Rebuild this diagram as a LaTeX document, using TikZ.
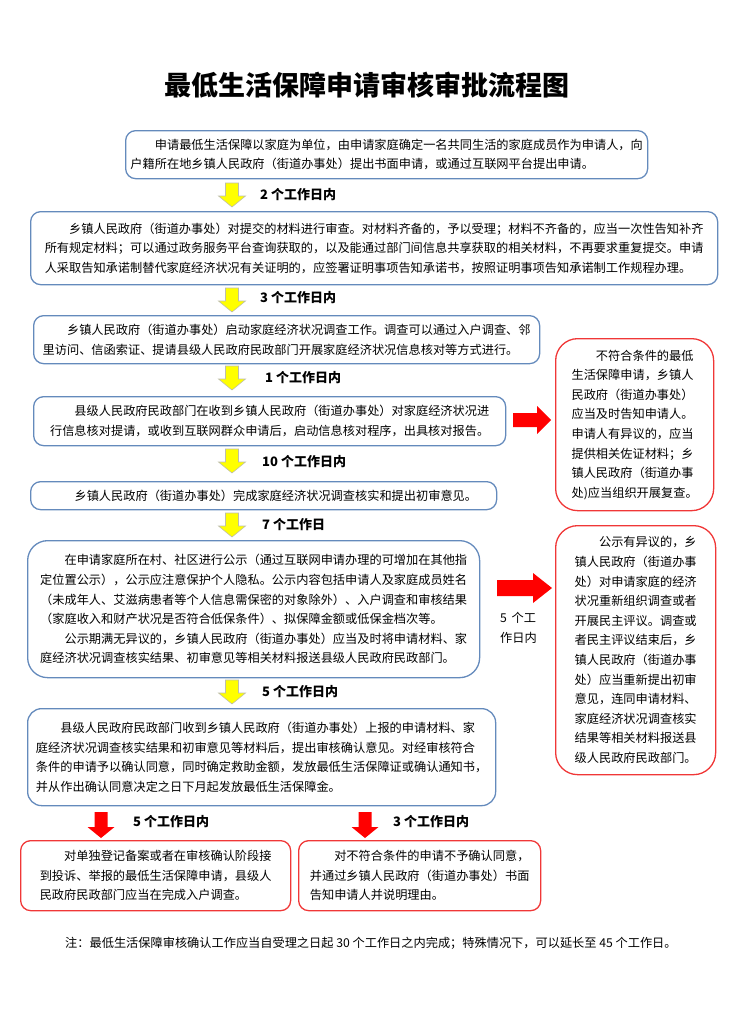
\documentclass[tikz,border=0pt]{standalone}
\usepackage{fontspec}
\setmainfont{Noto Sans CJK SC}
\definecolor{bblue}{RGB}{100,138,188}
\definecolor{rred}{RGB}{240,55,55}
\definecolor{ayel}{RGB}{255,255,0}
\definecolor{aedge}{RGB}{190,190,170}
\newcommand{\ind}{\hspace*{2em}}
\tikzset{
  bodyf/.style={font=\fontsize{12.2}{19.6}\selectfont},
  bbox/.style={draw=bblue, line width=1.3pt, rounded corners=10pt, align=left, inner sep=0pt, anchor=north west, bodyf},
  rbox/.style={draw=rred, line width=1.3pt, rounded corners=10pt, align=left, inner sep=0pt, anchor=north west, bodyf},
  rboxbig/.style={rbox, rounded corners=22pt},
  lab/.style={font=\fontsize{13}{15}\selectfont\bfseries, anchor=west, inner sep=0pt},
  yarr/.style={fill=ayel, draw=aedge, line width=0.6pt},
  rarr/.style={fill=red, draw=none},
  ydown/.pic={\path[yarr] (-6.5,0) -- (6.5,0) -- (6.5,13) -- (13.5,13) -- (0,24) -- (-13.5,13) -- (-6.5,13) -- cycle;},
  rdown/.pic={\path[rarr] (-6.5,0) -- (6.5,0) -- (6.5,15) -- (13.5,15) -- (0,26) -- (-13.5,15) -- (-6.5,15) -- cycle;},
}
\begin{document}
\begin{tikzpicture}[x=1pt,y=-1pt]
\useasboundingbox (0,0) rectangle (732,1012);
% title
\node[font=\fontsize{27}{30}\selectfont\bfseries] (title) at (367,85) {最低生活保障申请审核审批流程图};
% box 1
\node[bbox, minimum width=522, minimum height=48] (b1) at (125,130)
{\ind 申请最低生活保障以家庭为单位，由申请家庭确定一名共同生活的家庭成员作为申请人，向\\
户籍所在地乡镇人民政府（街道办事处）提出书面申请，或通过互联网平台提出申请。};
\pic at (232,183) {ydown};
\node[lab] (l1) at (260,195) {2 个工作日内};
% box 2
\node[bbox, minimum width=687, minimum height=73] (b2) at (30,211)
{\ind 乡镇人民政府（街道办事处）对提交的材料进行审查。对材料齐备的，予以受理；材料不齐备的，应当一次性告知补齐\\
所有规定材料；可以通过政务服务平台查询获取的，以及能通过部门间信息共享获取的相关材料，不再要求重复提交。申请\\
人采取告知承诺制替代家庭经济状况有关证明的，应签署证明事项告知承诺书，按照证明事项告知承诺制工作规程办理。};
\pic at (232,288) {ydown};
\node[lab] (l2) at (260,298) {3 个工作日内};
% box 3
\node[bbox, minimum width=506, minimum height=48] (b3) at (33,315)
{\ind 乡镇人民政府（街道办事处）启动家庭经济状况调查工作。调查可以通过入户调查、邻\\
里访问、信函索证、提请县级人民政府民政部门开展家庭经济状况信息核对等方式进行。};
\pic at (232,366) {ydown};
\node[lab] (l3) at (265,378) {1 个工作日内};
% box 4
\node[bbox, minimum width=472, minimum height=49] (b4) at (33,396)
{\ind 县级人民政府民政部门在收到乡镇人民政府（街道办事处）对家庭经济状况进\\
行信息核对提请，或收到互联网群众申请后，启动信息核对程序，出具核对报告。};
\path[rarr] (513,413) -- (537,413) -- (537,406) -- (551,420) -- (537,434) -- (537,427) -- (513,427) -- cycle;
% right box A
\node[rboxbig, minimum width=158, minimum height=172] (ra) at (555,338)
{\ind 不符合条件的最低\\
生活保障申请，乡镇人\\
民政府（街道办事处）\\
应当及时告知申请人。\\
申请人有异议的，应当\\
提供相关佐证材料；乡\\
镇人民政府（街道办事\\
处)应当组织开展复查。};
\pic at (232,449) {ydown};
\node[lab] (l4) at (262,462) {10 个工作日内};
% box 5
\node[bbox, minimum width=466, minimum height=28] (b5) at (30,481)
{\ind 乡镇人民政府（街道办事处）完成家庭经济状况调查核实和提出初审意见。};
\pic at (232,513) {ydown};
\node[lab] (l5) at (262,525) {7 个工作日};
% box 6
\node[bbox, minimum width=452, minimum height=137, rounded corners=20pt] (b6) at (27,540)
{\ind 在申请家庭所在村、社区进行公示（通过互联网申请办理的可增加在其他指\\
定位置公示），公示应注意保护个人隐私。公示内容包括申请人及家庭成员姓名\\
（未成年人、艾滋病患者等个人信息需保密的对象除外）、入户调查和审核结果\\
（家庭收入和财产状况是否符合低保条件）、拟保障金额或低保金档次等。\\
\ind 公示期满无异议的，乡镇人民政府（街道办事处）应当及时将申请材料、家\\
庭经济状况调查核实结果、初审意见等相关材料报送县级人民政府民政部门。};
\path[rarr] (497,580) -- (533,580) -- (533,573) -- (552,588) -- (533,603) -- (533,596) -- (497,596) -- cycle;
\node[font=\fontsize{12.2}{20}\selectfont, align=left, anchor=north west, inner sep=0pt] (l5b) at (500,612) {5\, 个工\\作日内};
% right box B
\node[rboxbig, minimum width=160, minimum height=249] (rb) at (555,525)
{\ind 公示有异议的，乡\\
镇人民政府（街道办事\\
处）对申请家庭的经济\\
状况重新组织调查或者\\
开展民主评议。调查或\\
者民主评议结束后，乡\\
镇人民政府（街道办事\\
处）应当重新提出初审\\
意见，连同申请材料、\\
家庭经济状况调查核实\\
结果等相关材料报送县\\
级人民政府民政部门。};
\pic at (232,680) {ydown};
\node[lab] (l6) at (262,692) {5 个工作日内};
% box 7
\node[bbox, minimum width=468, minimum height=97, rounded corners=14pt] (b7) at (27,708)
{\ind 县级人民政府民政部门收到乡镇人民政府（街道办事处）上报的申请材料、家\\
庭经济状况调查核实结果和初审意见等材料后，提出审核确认意见。对经审核符合\\
条件的申请予以确认同意，同时确定救助金额，发放最低生活保障证或确认通知书，\\
并从作出确认同意决定之日下月起发放最低生活保障金。};
\pic at (101,812) {rdown};
\node[lab] (l7) at (133,822) {5 个工作日内};
\pic at (365,812) {rdown};
\node[lab] (l8) at (393,822) {3 个工作日内};
% bottom boxes
\node[rbox, minimum width=270, minimum height=70] (b8) at (20,840)
{\ind 对单独登记备案或者在审核确认阶段接\\
到投诉、举报的最低生活保障申请，县级人\\
民政府民政部门应当在完成入户调查。};
\node[rbox, minimum width=242, minimum height=70] (b9) at (298,840)
{\ind 对不符合条件的申请不予确认同意，\\
并通过乡镇人民政府（街道办事处）书面\\
告知申请人并说明理由。};
% note
\node[font=\fontsize{12.2}{14}\selectfont, anchor=west, inner sep=0pt] (note) at (65,943)
{注：最低生活保障审核确认工作应当自受理之日起 30 个工作日之内完成；特殊情况下，可以延长至 45 个工作日。};
\end{tikzpicture}
\end{document}
